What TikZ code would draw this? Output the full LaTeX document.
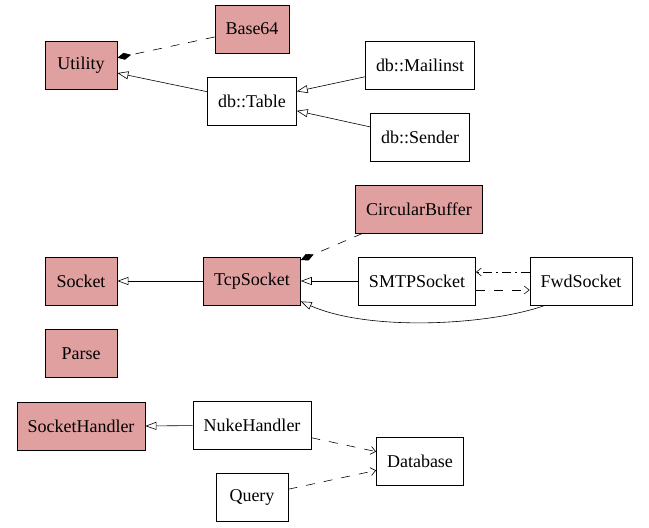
\documentclass[tikz,border=0pt]{standalone}
\usepackage{fontspec}
\setmainfont{Liberation Serif}
\usepackage{tikz}
\usetikzlibrary{arrows.meta,positioning}
\definecolor{boxpink}{HTML}{E0A0A0}

\begin{document}
\begin{tikzpicture}[x=1pt,y=-1pt,
  box/.style={draw,fill=white,minimum width=72pt,minimum height=48pt,inner xsep=10.5pt,font=\fontsize{18}{21}\selectfont,line width=0.8pt},
  pk/.style={box,fill=boxpink},
  inh/.style={-{Triangle[open,length=11pt,width=8pt]},line width=0.6pt},
  own/.style={-{Diamond[length=14pt,width=7pt]},dash pattern=on 9pt off 9pt,line width=0.6pt},
  dep/.style={-{Straight Barb[length=5pt,width=8pt]},dash pattern=on 9pt off 9pt,line width=0.6pt}]
\useasboundingbox (0,0) rectangle (649,528);
% ---------- utility group ----------
\node[pk] (util) at (81,65.5) {Utility};
\node[pk] (b64) at (252,29) {Base64};
\node[box] (tbl) at (252,101) {db::Table};
\node[box] (mail) at (420,65) {db::Mailinst};
\node[box,below=24pt of mail] (send) {db::Sender};
% ---------- socket group ----------
\node[pk] (cbuf) at (419,209) {CircularBuffer};
\node[pk] (sock) at (81,281) {Socket};
\node[pk] (tcp) at (252,281) {TcpSocket};
\node[box] (smtp) at (417,281) {SMTPSocket};
\node[box] (fwd) at (581,281) {FwdSocket};
\node[pk,below=24pt of sock] (parse) {Parse};
% ---------- handler group ----------
\node[pk,below=24pt of parse] (shdl) {SocketHandler};
\node[box] (nuke) at (252,425) {NukeHandler};
\node[box] (db) at (420,461) {Database};
\node[box] (qry) at (252,497) {Query};
% ---------- links ----------
\foreach \a/\b in {tbl/util,mail/tbl,send/tbl,tcp/sock,smtp/tcp,nuke/shdl}{\draw[inh] (\a) -- (\b);}
\foreach \a/\b in {b64/util,cbuf/tcp}{\draw[own] (\a) -- (\b);}
\foreach \a/\b in {nuke/db,qry/db}{\draw[dep] (\a) -- (\b);}
\draw[dep] ([yshift=-9pt]smtp.east) -- ([yshift=-9pt]fwd.west);
\draw[dep,dash pattern=on 9pt off 4pt on 2pt off 4pt] ([yshift=9pt]fwd.west) -- ([yshift=9pt]smtp.east);
\draw[inh] ([xshift=-36pt]fwd.south) .. controls (490,325) and (370,332) .. ([yshift=4pt]tcp.south east);
\end{tikzpicture}
\end{document}
